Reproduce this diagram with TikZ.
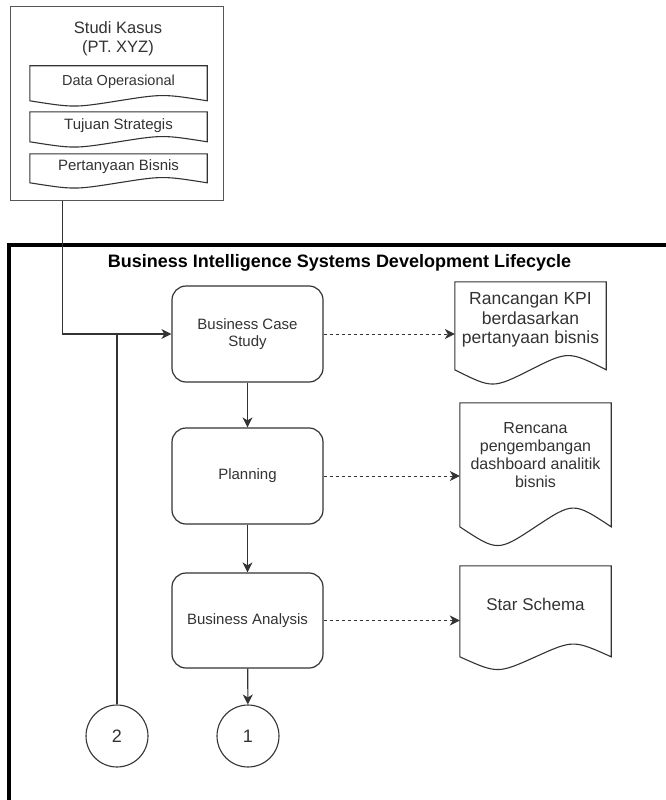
\documentclass[tikz,border=0pt]{standalone}
\usepackage{fontspec}
\setmainfont{Liberation Sans}
\usetikzlibrary{arrows.meta,calc}
\definecolor{txt}{HTML}{333333}
\definecolor{ln}{HTML}{333333}
\definecolor{boxln}{HTML}{555555}
\newcommand\fsz[2]{\fontsize{#1}{#2}\selectfont}
% document outline drawn from a node: name, height below north, control offset
\newcommand\docoutline[3]{%
  \path (#1.north east) ++(0,#2) coordinate (#1-r);
  \path (#1.north west) ++(0,#2) coordinate (#1-l);
  \path ($(#1-l)!0.5!(#1-r)$) coordinate (#1-m);
  \draw[docline] (#1.north west) -- (#1.north east) -- (#1-r)
    .. controls ($(#1-r)!0.5!(#1-m)+(0,-#3)$) .. (#1-m)
    .. controls ($(#1-m)!0.5!(#1-l)+(0,#3)$) .. (#1-l) -- cycle;
}
\tikzset{
  proc/.style={draw=ln, line width=1.2pt, rounded corners=14pt, minimum width=151pt,
    minimum height=96pt, align=center, text=txt, font=\fsz{15}{17.5}, inner sep=2pt},
  docnode/.style={inner sep=0pt, align=center, text=txt},
  docline/.style={draw=ln, line width=1.1pt},
  conn/.style={draw=ln, line width=1.1pt},
  tipshape/.tip={Stealth[length=10pt,width=10pt,inset=3pt]},
  arr/.style={conn, -tipshape},
  darr/.style={arr, line width=1pt, dash pattern=on 3pt off 3pt},
  circ/.style={circle, draw=ln, line width=1.1pt, minimum size=62pt, inner sep=0pt,
    text=txt, font=\fsz{18}{20}},
}
\begin{document}
\begin{tikzpicture}
\begin{scope}[x=1pt, y=-1pt]
\useasboundingbox (0,0) rectangle (666,800);
\fill[white] (0,0) rectangle (666,800);
% lifecycle container (runs off the page to the right and bottom)
\begin{scope}
  \clip (0,0) rectangle (666,800);
  \node[draw=black, line width=3.5pt, minimum width=691pt, minimum height=605pt,
    inner sep=0pt] (outer) at (354.5,547.5) {};
\end{scope}
\node[font=\bfseries\fsz{18}{20}, text=black] (title) at (339.5,263)
  {Business Intelligence Systems Development Lifecycle};
% case study box
\node[draw=boxln, line width=1pt, minimum width=213pt, minimum height=193pt,
  inner sep=0pt] (topbox) at (116.5,103.5) {};
\node[align=center, text=txt, font=\fsz{16.5}{19}] (tk) at (118,38.5)
  {Studi Kasus\\(PT. XYZ)};
\node[docnode, minimum width=177pt, minimum height=32pt, font=\fsz{14.5}{17}] (da)
  at (118.5,82) {Data Operasional};
\docoutline{da}{35}{7}
\node[docnode, minimum width=177pt, minimum height=28pt, font=\fsz{15}{17}] (db)
  at (118.5,126) {Tujuan Strategis};
\docoutline{db}{30}{7}
\node[docnode, minimum width=177pt, minimum height=26pt, font=\fsz{15}{17}] (dc)
  at (118.5,167) {Pertanyaan Bisnis};
\docoutline{dc}{29}{7}
% process steps
\node[proc] (bcs) at (247.5,334) {Business Case\\Study};
\node[proc] (plan) at (247.5,476) {Planning};
\node[proc, minimum height=95pt] (ba) at (247.5,620.5) {Business Analysis};
% outputs
\node[docnode, minimum width=151pt, minimum height=76pt, font=\fsz{17.5}{19.5}] (d1)
  at (530.5,320) {Rancangan KPI\\berdasarkan\\pertanyaan bisnis};
\docoutline{d1}{88}{19}
\node[docnode, minimum width=151pt, minimum height=104pt, font=\fsz{16}{18}] (d2)
  at (535.5,455) {Rencana\\pengembangan\\dashboard analitik\\bisnis};
\docoutline{d2}{124}{25}
\node[docnode, minimum width=151pt, minimum height=76pt, font=\fsz{17}{20}] (d3)
  at (535.5,604) {Star Schema};
\docoutline{d3}{91}{17}
% connectors
\node[circ] (c1) at (248,736) {1};
\node[circ] (c2) at (117,736) {2};
\path (topbox.south west) ++(53,0) coordinate (tbout);
\draw[arr] (tbout) |- (bcs.west);
\draw[conn] (c2.north) -- (c2.north |- bcs.west);
\draw[arr] (bcs) -- (plan);
\draw[arr] (plan) -- (ba);
\draw[arr] (ba) -- (c1);
\draw[darr] (bcs.east) -- (bcs.east -| d1.west);
\draw[darr] (plan.east) -- (plan.east -| d2.west);
\draw[darr] (ba.east) -- (ba.east -| d3.west);
\end{scope}
\end{tikzpicture}
\end{document}
